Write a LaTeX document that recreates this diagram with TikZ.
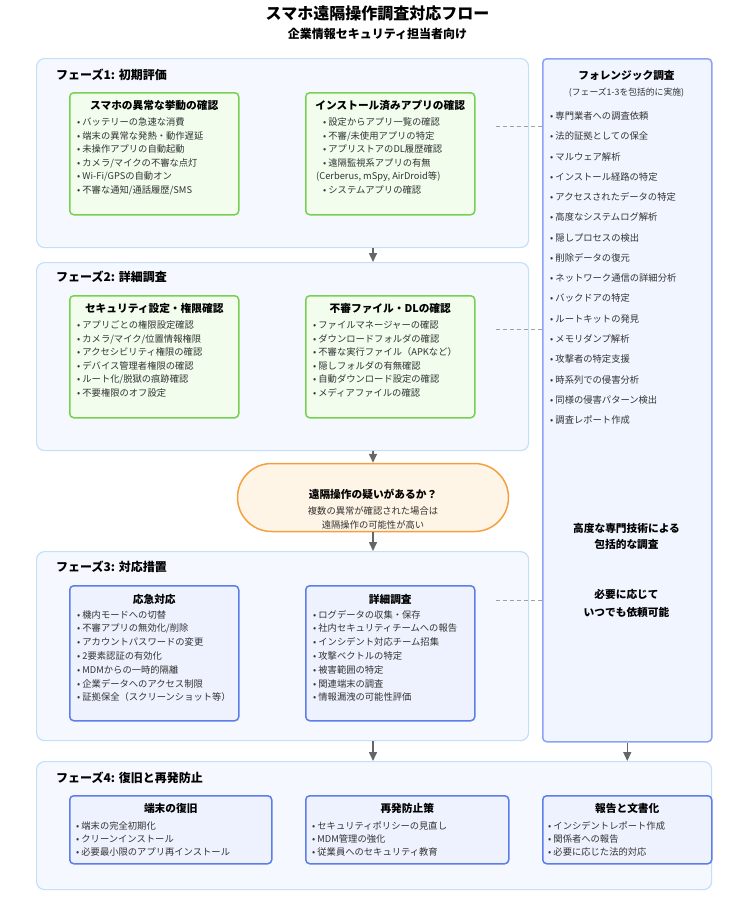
\documentclass[tikz,border=0pt]{standalone}
\usepackage{fontspec}
\setmainfont{Noto Sans CJK JP}
\usepackage{xcolor}
\usepackage{tikz}
\usetikzlibrary{arrows.meta, positioning}

\definecolor{phasefill}{HTML}{F5F9FF}
\definecolor{phaseline}{HTML}{C3DFFA}
\definecolor{checkfill}{HTML}{F2FDEE}
\definecolor{checkline}{HTML}{78D050}
\definecolor{actfill}{HTML}{EEF2FE}
\definecolor{actline}{HTML}{5C7DEA}
\definecolor{forenfill}{HTML}{F0F5FF}
\definecolor{forenline}{HTML}{8CA2F2}
\definecolor{decfill}{HTML}{FFF5E6}
\definecolor{decline}{HTML}{F5A040}
\definecolor{arrowgray}{HTML}{666666}
\definecolor{linkgray}{HTML}{A0A0A0}
\definecolor{itemtext}{HTML}{333333}

\begin{document}
\begin{tikzpicture}[x=1pt, y=-1pt]
\tikzstyle{phase} = [rectangle, rounded corners=8pt, draw=phaseline, fill=phasefill, line width=1.2pt, anchor=north west, inner sep=0pt]
\tikzstyle{checkbox} = [rectangle, rounded corners=4pt, draw=checkline, fill=checkfill, line width=1.5pt, anchor=north west, minimum width=169pt, minimum height=122pt, inner sep=0pt]
\tikzstyle{actbox} = [rectangle, rounded corners=4pt, draw=actline, fill=actfill, line width=1.5pt, anchor=north west, minimum width=169pt, minimum height=135pt, inner sep=0pt]
\tikzstyle{forenbox} = [rectangle, rounded corners=4pt, draw=forenline, fill=forenfill, line width=1.5pt, anchor=north west, inner sep=0pt]
\tikzstyle{decision} = [rectangle, rounded corners=34pt, draw=decline, fill=decfill, line width=1.5pt, minimum width=271pt, minimum height=68pt, inner sep=0pt]
\tikzstyle{boxtitle} = [font=\fontsize{10.7}{13}\selectfont\bfseries, inner sep=0pt]
\tikzstyle{phasetitle} = [font=\fontsize{12}{14}\selectfont\bfseries, anchor=west, inner sep=0pt]
\tikzstyle{items} = [font=\fontsize{9.3}{13.6}\selectfont, text=itemtext, align=left, anchor=north west, inner sep=0pt]
\tikzstyle{arrow} = [line width=1.5pt, draw=arrowgray, -{Triangle[width=8pt,length=9pt]}]
\tikzstyle{link} = [draw=linkgray, line width=1pt, dash pattern=on 4pt off 3pt]

\useasboundingbox (0,0) rectangle (755,903);

% title
\node[font=\fontsize{16}{18}\selectfont\bfseries] (title) at (377.5,13) {スマホ遠隔操作調査対応フロー};
\node[font=\fontsize{12}{14}\selectfont\bfseries] (subtitle) at (377.5,33.5) {企業情報セキュリティ担当者向け};

% phase frames
\node[phase, minimum width=492pt, minimum height=189pt] (p1) at (36,58) {};
\node[phase, minimum width=492pt, minimum height=188pt] (p2) at (36,262) {};
\node[phase, minimum width=492pt, minimum height=189pt] (p3) at (36,551) {};
\node[phase, minimum width=675pt, minimum height=128pt] (p4) at (36,761) {};

\node[phasetitle] (p1t) at (56,75) {フェーズ1: 初期評価};
\node[phasetitle] (p2t) at (56,277) {フェーズ2: 詳細調査};
\node[phasetitle] (p3t) at (56,567) {フェーズ3: 対応措置};
\node[phasetitle] (p4t) at (56,777.5) {フェーズ4: 復旧と再発防止};

% phase 1
\node[checkbox] (behchk) at (69,92) {};
\node[boxtitle] (behchkt) at ([yshift=-13.5pt]behchk.north) {スマホの異常な挙動の確認};
\node[items] (behlist) at ([shift={(8,25.5)}]behchk.north west) {• バッテリーの急速な消費\\• 端末の異常な発熱・動作遅延\\• 未操作アプリの自動起動\\• カメラ/マイクの不審な点灯\\• Wi-Fi/GPSの自動オン\\• 不審な通知/通話履歴/SMS};

\node[checkbox] (appchk) at (305,92) {};
\node[boxtitle] (appchkt) at ([yshift=-13.5pt]appchk.north) {インストール済みアプリの確認};
\node[items] (applist) at ([shift={(18,25.5)}]appchk.north west) {• 設定からアプリ一覧の確認\\• 不審/未使用アプリの特定\\• アプリストアのDL履歴確認\\• 遠隔監視系アプリの有無\\\hspace*{-7pt}(Cerberus, mSpy, AirDroid等)\\• システムアプリの確認};

% phase 2
\node[checkbox] (permchk) at (69,295) {};
\node[boxtitle] (permchkt) at ([yshift=-13.5pt]permchk.north) {セキュリティ設定・権限確認};
\node[items] (permlist) at ([shift={(8,25.5)}]permchk.north west) {• アプリごとの権限設定確認\\• カメラ/マイク/位置情報権限\\• アクセシビリティ権限の確認\\• デバイス管理者権限の確認\\• ルート化/脱獄の痕跡確認\\• 不要権限のオフ設定};

\node[checkbox] (filechk) at (305,295) {};
\node[boxtitle] (filechkt) at ([yshift=-13.5pt]filechk.north) {不審ファイル・DLの確認};
\node[items] (filelist) at ([shift={(8,25.5)}]filechk.north west) {• ファイルマネージャーの確認\\• ダウンロードフォルダの確認\\• 不審な実行ファイル（APKなど）\\• 隠しフォルダの有無確認\\• 自動ダウンロード設定の確認\\• メディアファイルの確認};

% decision
\node[decision] (dec) at (373,497.5) {};
\node[boxtitle] (dect) at (373,494) {遠隔操作の疑いがあるか？};
\node[font=\fontsize{9.3}{14}\selectfont, text=itemtext, align=center, inner sep=0pt] (decsub) at (373,518) {複数の異常が確認された場合は\\遠隔操作の可能性が高い};

% phase 3
\node[actbox] (urgent) at (69,585) {};
\node[boxtitle] (urgentt) at ([yshift=-14.5pt]urgent.north) {応急対応};
\node[items, font=\fontsize{9.3}{13.8}\selectfont] (urgentlist) at ([shift={(8,25)}]urgent.north west) {• 機内モードへの切替\\• 不審アプリの無効化/削除\\• アカウントパスワードの変更\\• 2要素認証の有効化\\• MDMからの一時的隔離\\• 企業データへのアクセス制限\\• 証拠保全（スクリーンショット等）};

\node[actbox] (detail) at (305,585) {};
\node[boxtitle] (detailt) at ([yshift=-14.5pt]detail.north) {詳細調査};
\node[items, font=\fontsize{9.3}{13.8}\selectfont] (detaillist) at ([shift={(8,25)}]detail.north west) {• ログデータの収集・保存\\• 社内セキュリティチームへの報告\\• インシデント対応チーム招集\\• 攻撃ベクトルの特定\\• 被害範囲の特定\\• 関連端末の調査\\• 情報漏洩の可能性評価};

% forensic column
\node[forenbox, minimum width=169pt, minimum height=683pt] (foren) at (542,58) {};
\node[boxtitle] (forent) at (626.5,75.5) {フォレンジック調査};
\node[font=\fontsize{8.8}{10}\selectfont, text=itemtext, inner sep=0pt] (forensub) at (626.5,92.5) {(フェーズ1-3を包括的に実施)};
\node[items, font=\fontsize{9.3}{20.27}\selectfont] (forenlist) at (550,111.5) {• 専門業者への調査依頼\\• 法的証拠としての保全\\• マルウェア解析\\• インストール経路の特定\\• アクセスされたデータの特定\\• 高度なシステムログ解析\\• 隠しプロセスの検出\\• 削除データの復元\\• ネットワーク通信の詳細分析\\• バックドアの特定\\• ルートキットの発見\\• メモリダンプ解析\\• 攻撃者の特定支援\\• 時系列での侵害分析\\• 同様の侵害パターン検出\\• 調査レポート作成};
\node[boxtitle, align=center, font=\fontsize{10.7}{16.5}\selectfont\bfseries] (forennote1) at (626.5,536.5) {高度な専門技術による\\包括的な調査};
\node[boxtitle, align=center, font=\fontsize{10.7}{17.5}\selectfont\bfseries] (forennote2) at (626.5,603.5) {必要に応じて\\いつでも依頼可能};

% phase 4
\node[actbox, minimum width=202pt, minimum height=68pt] (restore) at (69,795) {};
\node[boxtitle] (restoret) at ([yshift=-13pt]restore.north) {端末の復旧};
\node[items, font=\fontsize{9.3}{13}\selectfont] (restorelist) at ([shift={(7,26.5)}]restore.north west) {• 端末の完全初期化\\• クリーンインストール\\• 必要最小限のアプリ再インストール};

\node[actbox, minimum width=203pt, minimum height=68pt] (prevent) at (305,795) {};
\node[boxtitle] (preventt) at ([yshift=-13pt]prevent.north) {再発防止策};
\node[items, font=\fontsize{9.3}{13}\selectfont] (preventlist) at ([shift={(7,26.5)}]prevent.north west) {• セキュリティポリシーの見直し\\• MDM管理の強化\\• 従業員へのセキュリティ教育};

\node[actbox, minimum width=169pt, minimum height=68pt] (report) at (542,795) {};
\node[boxtitle] (reportt) at ([yshift=-13pt]report.north) {報告と文書化};
\node[items, font=\fontsize{9.3}{13}\selectfont] (reportlist) at ([shift={(6,26.5)}]report.north west) {• インシデントレポート作成\\• 関係者への報告\\• 必要に応じた法的対応};

% flow arrows
\draw[arrow] (p1.south -| dec.center) -- (p2.north -| dec.center);
\draw[arrow] (p2.south -| dec.center) -- (dec.north);
\draw[arrow] (dec.south) -- (p3.north -| dec.center);
\draw[arrow] (p3.south -| dec.center) -- (p4.north -| dec.center);
\draw[arrow] (foren.south) -- (p4.north -| foren.south);

% links to forensic column
\coordinate (l1) at ([shift={(20,34)}]appchk.north east);
\coordinate (l2) at ([shift={(20,34)}]filechk.north east);
\coordinate (l3) at ([shift={(20,15)}]detail.north east);
\draw[link] (l1) -- (l1 -| foren.west);
\draw[link] (l2) -- (l2 -| foren.west);
\draw[link] (l3) -- (l3 -| foren.west);
\end{tikzpicture}
\end{document}
